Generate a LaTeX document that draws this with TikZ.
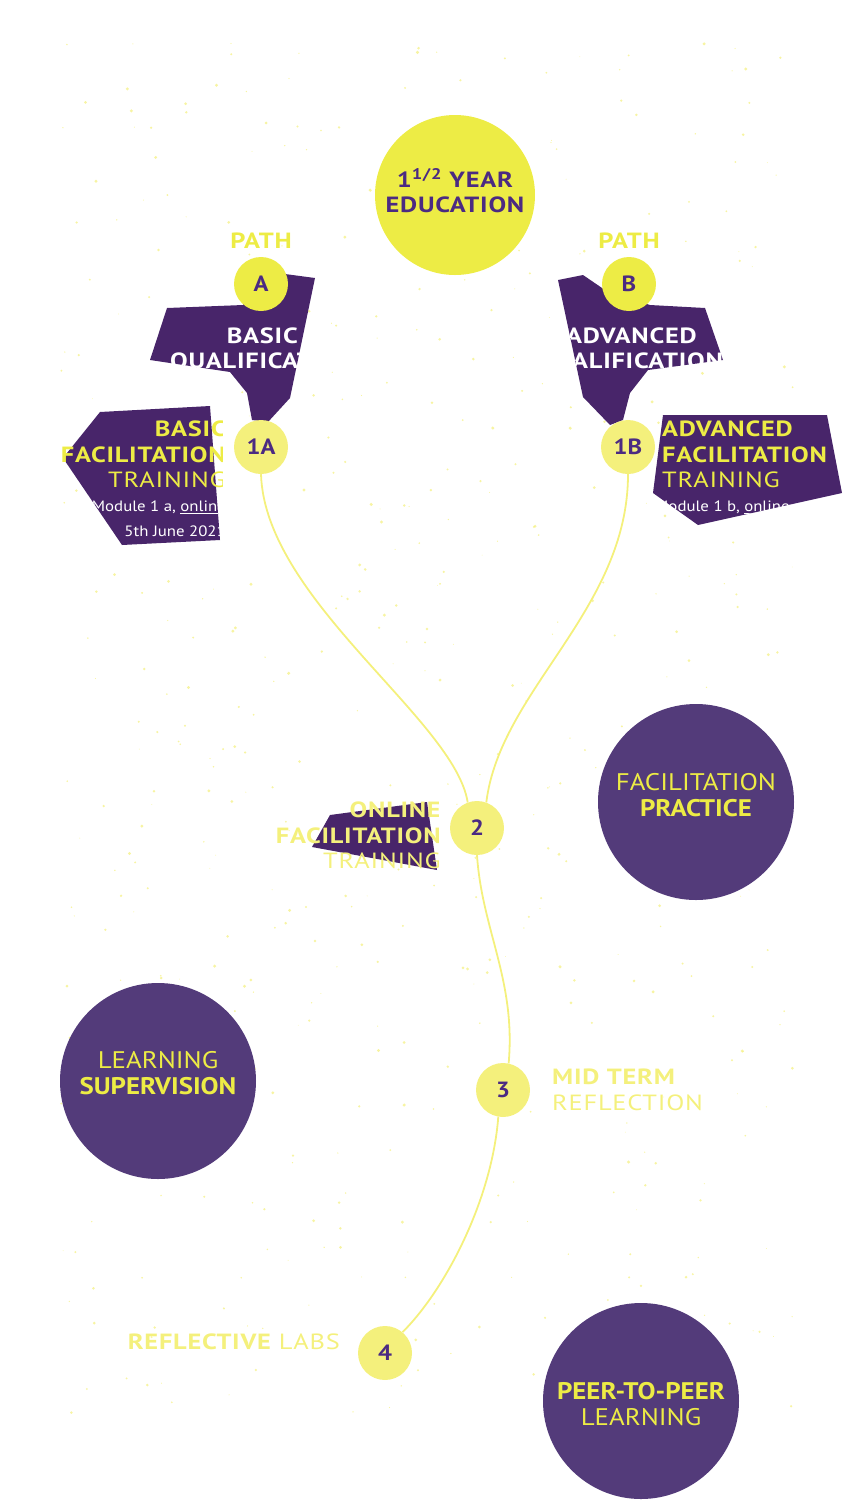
\documentclass[tikz,border=0pt]{standalone}
\usepackage{fontspec}
\setmainfont{PT Sans}[FakeStretch=1.12]
\newfontfamily\trackfont{PT Sans}[FakeStretch=1.2, LetterSpace=3.5]
\usepackage{xcolor}
\usetikzlibrary{positioning}

\definecolor{sun}{HTML}{EDEC45}
\definecolor{pale}{HTML}{F4F07C}
\definecolor{plum}{HTML}{48256A}
\definecolor{grape}{HTML}{533B7A}
\definecolor{ink}{HTML}{4B2A82}

\tikzset{
  waypoint/.style={circle, fill=pale, minimum size=54pt, inner sep=0pt, text=ink, font=\bfseries\fontsize{22}{24}\selectfont},
  pathdot/.style={waypoint, fill=sun},
  blob/.style={circle, fill=grape, minimum size=196pt, inner sep=0pt},
  blobtext/.style={inner sep=0pt, text=sun, align=center, font=\fontsize{24}{26}\selectfont},
  route/.style={draw=pale, line width=1.8pt},
  head/.style={inner sep=0pt, font=\trackfont\fontsize{22}{25.5}\selectfont},
  small/.style={inner sep=0pt, text=white, font=\fontsize{15}{25}\selectfont},
}

\begin{document}
\begin{tikzpicture}[x=1pt,y=-1pt]
  \useasboundingbox (0,0) rectangle (855,1500);

  % speckles
  \pgfmathsetseed{11}
  \foreach \i in {1,...,520}
    \fill[pale, opacity=0.7] ({60+rnd*740},{40+rnd*1380}) circle ({0.4+rnd*1.3});

  % qualification shapes
  \fill[plum] (167,308) -- (243,305) -- (270,272) -- (315,278) -- (290,398) -- (268,422)
    -- (252,420) -- (247,393) -- (230,372) -- (150,360) -- cycle;
  \begin{scope}
    \clip (167,308) -- (243,305) -- (270,272) -- (315,278) -- (290,398) -- (268,422)
      -- (252,420) -- (247,393) -- (230,372) -- (150,360) -- cycle;
    \node[head, text=white, anchor=north east] (bq1) at (298,328) {\bfseries BASIC};
    \node[head, text=white, anchor=north west] (bq2) at (170,353) {\bfseries QUALIFICAT};
  \end{scope}

  \fill[plum] (558,280) -- (583,275) -- (605,290) -- (650,305) -- (705,308) -- (723,360)
    -- (648,370) -- (630,393) -- (623,420) -- (610,425) -- (583,397) -- cycle;
  \begin{scope}
    \clip (558,280) -- (583,275) -- (605,290) -- (650,305) -- (705,308) -- (723,360)
      -- (648,370) -- (630,393) -- (623,420) -- (610,425) -- (583,397) -- cycle;
    \node[head, text=white, anchor=north west] (aq1) at (566,328) {\bfseries ADVANCED};
    \node[head, text=white, anchor=north west] (aq2) at (572,353) {\bfseries ALIFICATION};
  \end{scope}

  % training shapes
  \fill[plum] (100,412) -- (210,406) -- (220,540) -- (122,545) -- (63,458) -- cycle;
  \begin{scope}
    \clip (40,380) rectangle (222,560);
    \node[head, text=sun, anchor=north east, align=right] (bft) at (226,421)
      {{\bfseries BASIC}\\{\bfseries FACILITATION}\\TRAINING};
    \clip (100,412) -- (210,406) -- (220,540) -- (122,545) -- (63,458) -- cycle;
    \node[small, anchor=north east, align=right] (bdate) at (226,501)
      {Module 1 a, \underline{online}\\5th June 2021};
  \end{scope}

  \fill[plum] (663,415) -- (827,415) -- (842,493) -- (698,525) -- (653,493) -- cycle;
  \node[head, text=sun, anchor=north west, align=left] (aft) at (662,421)
    {{\bfseries ADVANCED}\\{\bfseries FACILITATION}\\TRAINING};
  \begin{scope}
    \clip (663,415) -- (827,415) -- (842,493) -- (698,525) -- (653,493) -- cycle;
    \node[small, anchor=north west] (adate) at (655,501) {Module 1 b, \underline{online}};
  \end{scope}

  \fill[plum] (330,815) -- (427,802) -- (437,870) -- (312,847) -- cycle;
  \begin{scope}
    \clip (250,780) rectangle (438,880);
    \node[head, text=pale, anchor=north east, align=right] (oft) at (441,802)
      {{\bfseries ONLINE}\\{\bfseries FACILITATION}\\TRAINING};
  \end{scope}

  % start
  \node[circle, fill=sun, minimum size=160pt, inner sep=0pt] (edu) at (455,195) {};
  \node[head, text=ink, align=center, font=\trackfont\bfseries\fontsize{22}{25.5}\selectfont]
    (edutext) at (455,191) {1\textsuperscript{1/2} YEAR\\EDUCATION};

  \node[pathdot] (pA) at (261,284) {A};
  \node[pathdot] (pB) at (629,284) {B};
  \node[head, text=sun, font=\trackfont\bfseries\fontsize{22}{24}\selectfont] (labA) at (261,241) {PATH};
  \node[head, text=sun, font=\trackfont\bfseries\fontsize{22}{24}\selectfont] (labB) at (629,241) {PATH};

  \node[waypoint] (n1A) at (261,447) {1A};
  \node[waypoint] (n1B) at (628,447) {1B};
  \node[waypoint] (n2) at (477,828) {2};
  \node[waypoint] (n3) at (503,1090) {3};
  \node[waypoint] (n4) at (385,1353) {4};

  \draw[route] (n1A.south) .. controls (265,600) and (455,720) .. (n2.110);
  \draw[route] (n1B.south) .. controls (628,610) and (500,690) .. (n2.70);
  \draw[route] (n2.south) .. controls (482,930) and (516,980) .. (n3.78);
  \draw[route] (n3.260) .. controls (492,1200) and (445,1290) .. (n4.50);

  \node[head, text=pale, anchor=north west, align=left] (mid) at (552,1069)
    {{\bfseries MID TERM}\\REFLECTION};
  \node[head, text=pale, anchor=north east] (labs) at (340,1334)
    {{\bfseries REFLECTIVE} LABS};

  % side activities
  \node[blob] (prac) at (696,802) {};
  \node[blobtext] (practext) at (696,795) {FACILITATION\\{\bfseries PRACTICE}};
  \node[blob] (sup) at (158,1081) {};
  \node[blobtext] (suptext) at (158,1073) {LEARNING\\{\bfseries SUPERVISION}};
  \node[blob] (peer) at (641,1401) {};
  \node[blobtext] (peertext) at (641,1404) {{\bfseries PEER-TO-PEER}\\LEARNING};
\end{tikzpicture}
\end{document}
